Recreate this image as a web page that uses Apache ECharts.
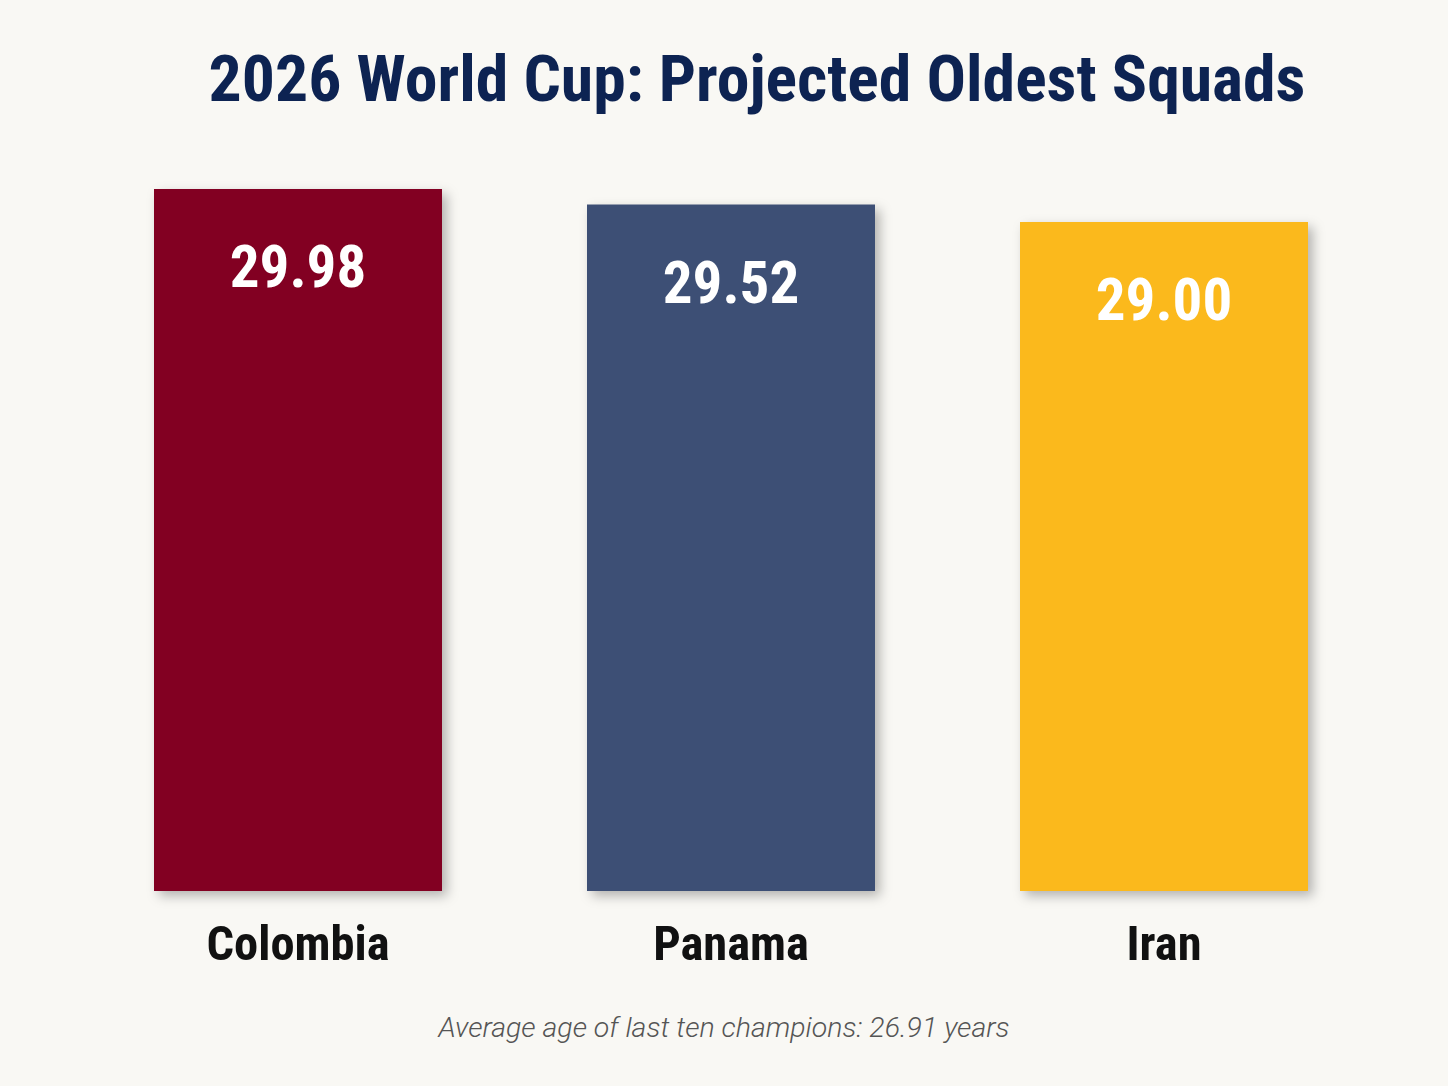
<!DOCTYPE html>
<html>
<head>
<meta charset="utf-8">
<script src="https://cdn.jsdelivr.net/npm/echarts@6/dist/echarts.min.js"></script>
<style>
html,body{margin:0;padding:0;background:#f9f8f4;}
#chart{width:1448px;height:1086px;}
#chart svg text:not([style*="italic"]){font-stretch:condensed !important;}
</style>
</head>
<body>
<div id="chart"></div>
<script>
const titleText = "2026 World Cup: Projected Oldest Squads";
const footnote = "Average age of last ten champions: 26.91 years";
const categories = ["Colombia", "Panama", "Iran"];
const values = [29.98, 29.52, 29.00];
const barColors = ["#820024", "#3c5075", "#fbb91d"];

const condensed = 'Roboto, sans-serif';

const chart = echarts.init(document.getElementById('chart'), null, { renderer: 'svg' });
chart.setOption({
  backgroundColor: '#f9f8f4',
  animation: false,
  title: [
    {
      text: titleText,
      left: 752,
      top: 40,
      textAlign: 'center',
      textStyle: { fontFamily: condensed, fontWeight: 'bold', fontSize: 65.7, color: '#0d2352' }
    },
    {
      text: footnote,
      left: 719,
      top: 1008,
      textAlign: 'center',
      textStyle: { fontFamily: 'Roboto, sans-serif', fontStyle: 'italic', fontWeight: 300, fontSize: 28.5, color: '#555555' }
    }
  ],
  grid: { left: 81.5, right: 67.5, top: 155, bottom: 195 },
  xAxis: {
    type: 'category',
    data: categories,
    axisLine: { show: false },
    axisTick: { show: false },
    axisLabel: { fontFamily: condensed, fontWeight: 'bold', fontSize: 48.5, color: '#111111', margin: 28 }
  },
  yAxis: {
    type: 'value',
    min: 9,
    max: 31,
    show: false,
    splitLine: { show: false }
  },
  series: [{
    type: 'bar',
    barWidth: 288,
    data: values.map((v, i) => ({
      value: v,
      itemStyle: { color: barColors[i] }
    })),
    itemStyle: {
      shadowBlur: 12,
      shadowOffsetX: 5,
      shadowOffsetY: 5,
      shadowColor: 'rgba(0,0,0,0.28)'
    },
    label: {
      show: true,
      position: 'insideTop',
      distance: 48,
      formatter: p => p.value.toFixed(2),
      fontFamily: condensed,
      fontWeight: 'bold',
      fontSize: 59,
      color: '#ffffff'
    }
  }]
});
</script>
</body>
</html>
